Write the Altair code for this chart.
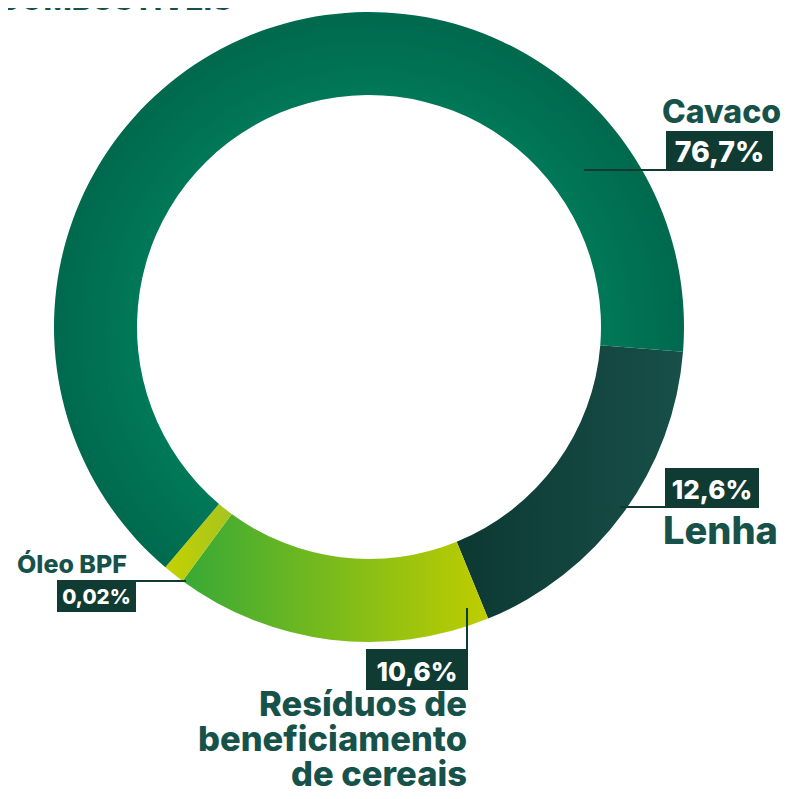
import math
import altair as alt
import pandas as pd

# ---- data ----
categories = ["Lenha", "Resíduos de beneficiamento de cereais", "Óleo BPF", "Cavaco"]
drawn_share = [17.58, 16.25, 1.11, 65.06]          # share of the ring as drawn
pct_labels = ["12,6%", "10,6%", "0,02%", "76,7%"]  # printed labels
title_text = "COMBUSTÍVEIS"
residuos_lines = ["Resíduos de", "beneficiamento", "de cereais"]

# ---- layout ----
OX, OY = 8, 8
def px(x): return x - OX
def py(y): return y - OY

CX, CY = px(369), py(327)
R_OUT, R_IN = 315, 232
START = math.radians(94.5)
FONT = "Inter"
TXT = "#17524A"
BOX = "#0F3B33"

df = pd.DataFrame({"cat": categories, "share": drawn_share, "ord": list(range(len(categories)))})
one = pd.DataFrame({"k": [0]})

theta_scale = alt.Scale(domain=[0, 100], range=[START, START + 2 * math.pi])

base = (
    alt.Chart(df)
    .transform_window(cum="sum(share)", sort=[alt.SortField("ord")], frame=[None, 0])
    .transform_calculate(start="datum.cum - datum.share")
)

def lin(c0, c1):
    return alt.LinearGradient(
        gradient="linear",
        stops=[alt.GradientStop(color=c0, offset=0), alt.GradientStop(color=c1, offset=1)],
        x1=0, x2=1, y1=0, y2=0,
    )

cavaco_fill = alt.RadialGradient(
    gradient="radial",
    stops=[alt.GradientStop(color="#007E5C", offset=0.0),
           alt.GradientStop(color="#007A59", offset=0.72),
           alt.GradientStop(color="#00694E", offset=1.0)],
    x1=0.5, y1=0.567, r1=0.0, x2=0.5, y2=0.567, r2=0.5,
)

fills = {
    "Lenha": lin("#0C3932", "#184F49"),
    "Resíduos de beneficiamento de cereais": lin("#38A936", "#BFCD00"),
    "Óleo BPF": lin("#C4D200", "#A6C420"),
    "Cavaco": cavaco_fill,
}

def seg(cat):
    return (
        base.transform_filter(alt.datum.cat == cat)
        .mark_arc(fill=fills[cat], outerRadius=R_OUT, innerRadius=R_IN, stroke=None)
        .encode(
            theta=alt.Theta("start:Q", scale=theta_scale),
            theta2="cum:Q",
            x=alt.value(CX),
            y=alt.value(CY),
        )
    )

def text(t, x, y, size, color=TXT, align="left", weight=800):
    return alt.Chart(one).mark_text(
        text=t, font=FONT, fontSize=size, fontWeight=weight, color=color,
        align=align, baseline="alphabetic",
    ).encode(x=alt.value(px(x)), y=alt.value(py(y)))

def box(x0, x1, y0, y1):
    return alt.Chart(one).mark_rect(color=BOX).encode(
        x=alt.value(px(x0)), x2=alt.value(px(x1)), y=alt.value(py(y0)), y2=alt.value(py(y1)))

def rule(x0, x1, y0, y1):
    return alt.Chart(one).mark_rule(color=BOX, strokeWidth=2).encode(
        x=alt.value(px(x0)), x2=alt.value(px(x1)), y=alt.value(py(y0)), y2=alt.value(py(y1)))

layers = [seg(c) for c in categories]

layers += [
    # title (clipped at top)
    text(title_text, -2, 10, 30),
    # Cavaco
    rule(584, 667, 170, 170),
    box(666, 773, 131, 171),
    text(pct_labels[3], 719.5, 162, 28.5, color="white", align="center"),
    text(categories[3], 781, 123, 32, align="right"),
    # Lenha
    rule(620, 666, 507, 507),
    box(665, 759, 468, 508),
    text(pct_labels[0], 712, 499, 26, color="white", align="center"),
    text(categories[0], 663, 544, 38),
    # Residuos
    rule(467, 467, 608, 690),
    box(366, 468, 649, 690),
    text(pct_labels[1], 417, 681, 26, color="white", align="center"),
    # Oleo
    rule(135, 186, 581, 581),
    box(57, 136, 580, 612),
    text(pct_labels[2], 96.5, 604, 20.5, color="white", align="center"),
    text(categories[2], 17, 573, 25),
]

for i, line in enumerate(residuos_lines):
    layers.append(text(line, 467, 716 + 35 * i, 34.5, align="right"))

chart = (
    alt.layer(*layers)
    .properties(width=794, height=783, autosize=alt.AutoSizeParams(type="none"), padding=0)
    .configure_view(stroke=None)
)

chart.save("out.html", embed_options={"renderer": "svg", "actions": False})
